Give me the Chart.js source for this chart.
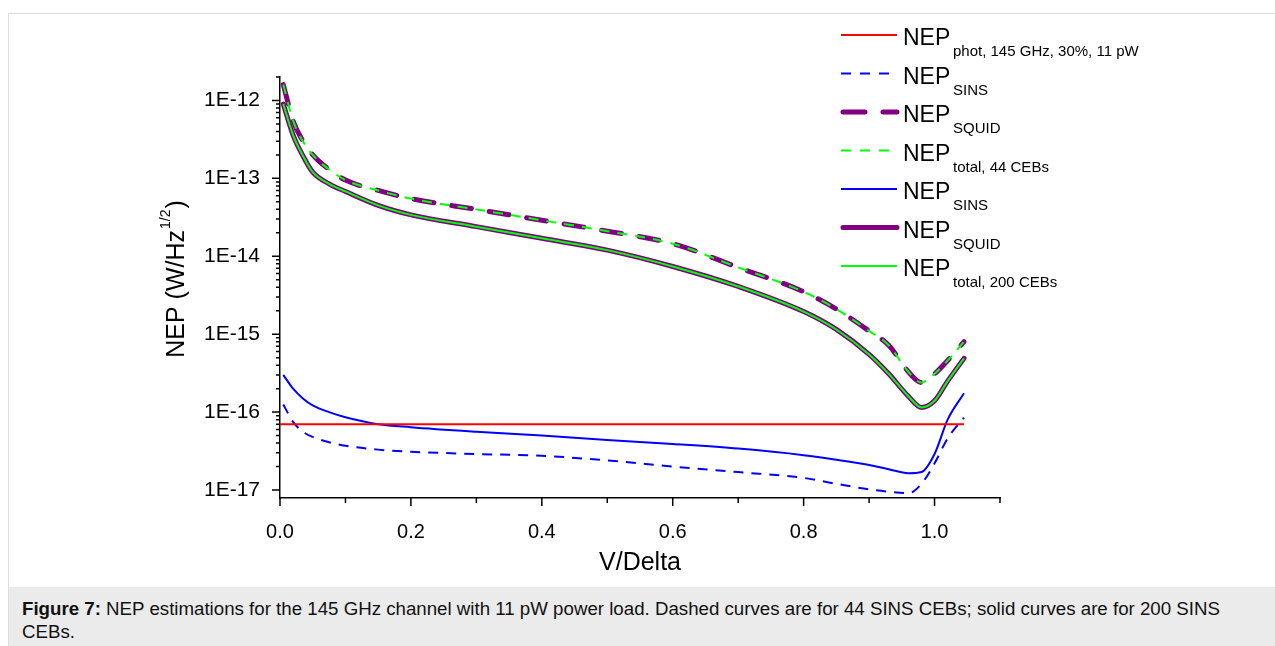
<!DOCTYPE html>
<html>
<head>
<meta charset="utf-8">
<script src="https://cdn.jsdelivr.net/npm/chart.js@4"></script>
<style>
  body { margin: 0; background: #fff; font-family: 'Liberation Sans', Arial, sans-serif; }
  #frame { position: absolute; left: 8px; top: 13px; width: 1280px; height: 640px; border: 1px solid #dcdcdc; box-sizing: border-box; }
  #wrap { position: absolute; left: 0; top: 0; width: 1275px; height: 587px; }
  #caption { position: absolute; left: 9px; top: 587px; width: 1266px; height: 59px; background: #ebebeb;
             font-size: 18.7px; line-height: 23px; color: #111; padding: 10px 0 0 13px; box-sizing: border-box; white-space: nowrap; }
</style>
</head>
<body>
<div id="frame"></div>
<div id="wrap"><canvas id="nepChart"></canvas></div>
<div id="caption"><b>Figure 7:</b> NEP estimations for the 145 GHz channel with 11 pW power load. Dashed curves are for 44 SINS CEBs; solid curves are for 200 SINS<br>CEBs.</div>
<script>
// V/Delta sample points
const vDelta = [0.005, 0.02, 0.035, 0.05, 0.075, 0.1, 0.15, 0.2, 0.3, 0.4, 0.5, 0.6, 0.7, 0.8, 0.85, 0.9, 0.93, 0.96, 0.98, 1.0, 1.02, 1.045];

// 44 CEBs (dashed)
const sins44  = [1.25e-16, 7.5e-17, 5.6e-17, 4.8e-17, 4.1e-17, 3.7e-17, 3.3e-17, 3.1e-17, 2.9e-17, 2.75e-17, 2.4e-17, 2.0e-17, 1.7e-17, 1.43e-17, 1.2e-17, 1.02e-17, 9.5e-18, 9.1e-18, 1.2e-17, 2.2e-17, 4.6e-17, 8.5e-17];
const squid44 = [1.6e-12, 5.5e-13, 3.0e-13, 2.0e-13, 1.3e-13, 9.5e-14, 7.0e-14, 5.5e-14, 4.0e-14, 2.9e-14, 2.1e-14, 1.45e-14, 7.2e-15, 3.5e-15, 2.1e-15, 1.1e-15, 7.2e-16, 3.3e-16, 2.4e-16, 3.1e-16, 4.6e-16, 8.0e-16];
const total44 = [1.6e-12, 5.5e-13, 3.0e-13, 2.0e-13, 1.3e-13, 9.5e-14, 7.0e-14, 5.5e-14, 4.0e-14, 2.9e-14, 2.1e-14, 1.45e-14, 7.2e-15, 3.5e-15, 2.1e-15, 1.1e-15, 7.2e-16, 3.3e-16, 2.4e-16, 3.1e-16, 4.6e-16, 8.0e-16];

// 200 CEBs (solid)
const sins200  = [3.0e-16, 2.0e-16, 1.5e-16, 1.22e-16, 1.0e-16, 8.6e-17, 7.0e-17, 6.4e-17, 5.6e-17, 5.0e-17, 4.4e-17, 3.9e-17, 3.4e-17, 2.8e-17, 2.45e-17, 2.1e-17, 1.85e-17, 1.64e-17, 1.7e-17, 2.9e-17, 8.0e-17, 1.75e-16];
const squid200 = [9.0e-13, 3.6e-13, 1.95e-13, 1.2e-13, 8.5e-14, 6.8e-14, 4.5e-14, 3.4e-14, 2.4e-14, 1.7e-14, 1.2e-14, 7.4e-15, 4.1e-15, 1.95e-15, 1.15e-15, 5.5e-16, 3.1e-16, 1.6e-16, 1.15e-16, 1.4e-16, 2.5e-16, 4.9e-16];
const total200 = [9.0e-13, 3.6e-13, 1.95e-13, 1.2e-13, 8.5e-14, 6.8e-14, 4.5e-14, 3.4e-14, 2.4e-14, 1.7e-14, 1.2e-14, 7.4e-15, 4.1e-15, 1.95e-15, 1.15e-15, 5.5e-16, 3.1e-16, 1.6e-16, 1.15e-16, 1.4e-16, 2.5e-16, 4.9e-16];

// photon noise, constant
const photV = [0.0, 1.045];
const phot  = [7.0e-17, 7.0e-17];

// axis ticks
const xTicks = [0.0, 0.1, 0.2, 0.3, 0.4, 0.5, 0.6, 0.7, 0.8, 0.9, 1.0, 1.1];
const yDecades = [1e-17, 1e-16, 1e-15, 1e-14, 1e-13, 1e-12];

const pts = (xs, ys) => xs.map((x, i) => ({x: x, y: ys[i]}));
const FONT = "'Liberation Sans', Arial, sans-serif";

const series = [
    {main: 'NEP', sub: 'phot, 145 GHz, 30%, 11 pW', data: pts(photV, phot), color: '#ff0000', width: 2, dash: [], order: 1},
    {main: 'NEP', sub: 'SINS', data: pts(vDelta, sins44), color: '#0000ff', width: 2, dash: [10, 8], order: 2},
    {main: 'NEP', sub: 'SQUID', data: pts(vDelta, squid44), color: '#800080', width: 5, dash: [20, 18], order: 9},
    {main: 'NEP', sub: 'total, 44 CEBs', data: pts(vDelta, total44), color: '#00ff00', width: 2, dash: [10, 8], order: 3},
    {main: 'NEP', sub: 'SINS', data: pts(vDelta, sins200), color: '#0000ff', width: 2, dash: [], order: 4},
    {main: 'NEP', sub: 'SQUID', data: pts(vDelta, squid200), color: '#800080', width: 5, dash: [], order: 10},
    {main: 'NEP', sub: 'total, 200 CEBs', data: pts(vDelta, total200), color: '#00ff00', width: 2, dash: [], order: 5},
];

// ticks, axis titles and legend with subscripts
const decorations = {
    id: 'decorations',
    afterDraw(chart) {
        const ctx = chart.ctx;
        const xs = chart.scales.x, ys = chart.scales.y;
        const area = chart.chartArea;
        ctx.save();
        ctx.strokeStyle = '#000';
        ctx.lineWidth = 1.5;
        ctx.beginPath();
        xTicks.forEach((t, i) => {
            const px = xs.getPixelForValue(t);
            const len = (i % 2 === 0) ? 8 : 5;
            ctx.moveTo(px, area.bottom);
            ctx.lineTo(px, area.bottom + len);
        });
        yDecades.forEach(d => {
            for (let k = 1; k <= 9; k++) {
                const v = d * k;
                if (v < ys.min || v > ys.max) continue;
                const py = ys.getPixelForValue(v);
                ctx.moveTo(area.left, py);
                ctx.lineTo(area.left - (k === 1 ? 8 : 4), py);
            }
        });
        ctx.stroke();

        // y title
        ctx.fillStyle = '#000';
        ctx.save();
        ctx.translate(184, 280);
        ctx.rotate(-Math.PI / 2);
        ctx.font = '25px ' + FONT;
        const a = 'NEP (W/Hz', b = '1/2', c = ')';
        const wa = ctx.measureText(a).width;
        ctx.font = '14px ' + FONT;
        const wb = ctx.measureText(b).width;
        ctx.font = '25px ' + FONT;
        const wc = ctx.measureText(c).width;
        let x0 = -(wa + wb + wc) / 2;
        ctx.textBaseline = 'alphabetic';
        ctx.fillText(a, x0, 0);
        ctx.font = '14px ' + FONT;
        ctx.fillText(b, x0 + wa + 1, -14);
        ctx.font = '25px ' + FONT;
        ctx.fillText(c, x0 + wa + wb + 2, 0);
        ctx.restore();

        // x title
        ctx.font = '25px ' + FONT;
        ctx.textAlign = 'center';
        ctx.fillText('V/Delta', (area.left + area.right) / 2, 570);

        // legend
        ctx.textAlign = 'left';
        series.forEach((s, i) => {
            const ly = 35 + i * 38.5;
            ctx.strokeStyle = s.color;
            ctx.lineWidth = s.width;
            ctx.setLineDash(s.dash.length ? (s.width > 3 ? [22, 18] : [10, 9]) : []);
            ctx.lineCap = s.width > 3 ? 'round' : 'butt';
            ctx.beginPath();
            ctx.moveTo(s.width > 3 ? 843 : 841, ly);
            ctx.lineTo(897, ly);
            ctx.stroke();
            ctx.setLineDash([]);
            ctx.fillStyle = '#000';
            ctx.font = '23px ' + FONT;
            ctx.fillText(s.main, 903, ly + 10);
            ctx.font = '15px ' + FONT;
            ctx.fillText(s.sub, 953, ly + 21);
        });
        ctx.restore();
    }
};

new Chart(document.getElementById('nepChart'), {
    type: 'line',
    data: {
        datasets: series.map(s => ({
            label: s.main + ' ' + s.sub,
            data: s.data,
            borderColor: s.color,
            borderWidth: s.width,
            borderDash: s.dash,
            borderCapStyle: s.width > 3 ? 'round' : 'butt',
            pointRadius: 0,
            fill: false,
            cubicInterpolationMode: 'monotone',
            order: s.order,
        }))
    },
    options: {
        responsive: true,
        maintainAspectRatio: false,
        animation: false,
        layout: {padding: {top: 77, right: 275, left: 0, bottom: 0}},
        plugins: {
            legend: {display: false},
            tooltip: {enabled: false},
        },
        scales: {
            x: {
                type: 'linear',
                min: 0,
                max: 1.1,
                grid: {display: false},
                border: {display: true, color: '#000', width: 1.5},
                afterFit: scale => { scale.height = 89; },
                afterBuildTicks: scale => { scale.ticks = xTicks.map(v => ({value: v})); },
                ticks: {
                    autoSkip: false,
                    maxRotation: 0,
                    padding: 14,
                    color: '#000',
                    font: {family: FONT, size: 20},
                    callback: v => (Math.round(v * 10) % 2 === 0 ? v.toFixed(1) : ''),
                },
            },
            y: {
                type: 'logarithmic',
                min: 7.9e-18,
                max: 2.0e-12,
                grid: {display: false},
                border: {display: true, color: '#000', width: 1.5},
                afterFit: scale => { scale.width = 280; },
                afterBuildTicks: scale => { scale.ticks = yDecades.map(v => ({value: v})); },
                ticks: {
                    autoSkip: false,
                    padding: 12,
                    color: '#000',
                    font: {family: FONT, size: 21},
                    callback: v => '1E' + Math.round(Math.log10(v)),
                },
            },
        },
    },
    plugins: [decorations],
});
</script>
</body>
</html>
